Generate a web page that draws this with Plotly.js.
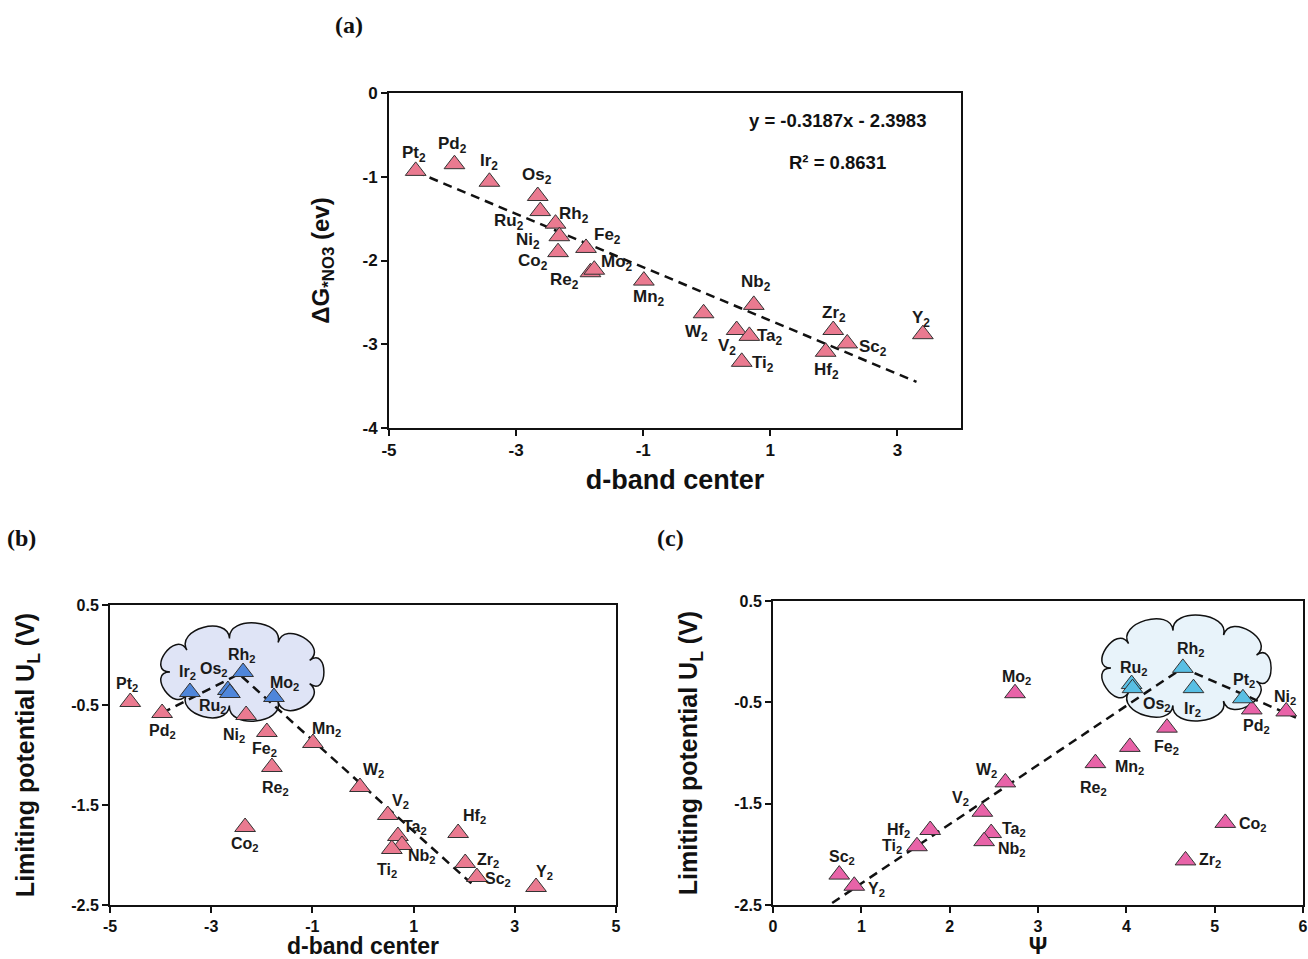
<!DOCTYPE html>
<html><head><meta charset="utf-8">
<script src="https://cdn.plot.ly/plotly-3.0.1.min.js"></script>
<style>html,body{margin:0;padding:0;background:#fff}#chart{width:1308px;height:959px}</style>
</head><body><div id="chart"></div>
<script>
// ---------------- Panel (a): ΔG*NO3 vs d-band center ----------------
const aElements = ['Pt','Pd','Ir','Os','Ru','Rh','Ni','Co','Fe','Re','Mo','Mn','W','Nb','V','Ta','Ti','Zr','Sc','Hf','Y'];
const aDband    = [-4.58,-3.97,-3.42,-2.66,-2.62,-2.38,-2.32,-2.34,-1.90,-1.83,-1.77,-0.99,-0.05,0.74,0.47,0.67,0.55,1.99,2.21,1.87,3.40];
const aDeltaG   = [-0.93,-0.85,-1.06,-1.23,-1.41,-1.56,-1.71,-1.90,-1.85,-2.14,-2.11,-2.24,-2.63,-2.53,-2.83,-2.90,-3.21,-2.83,-2.99,-3.09,-2.88];
const aFitX = [-4.58, 3.30];
const aFitY = [-0.94, -3.45];
const aEquation = 'y = -0.3187x - 2.3983';
const aRsq = 'R² = 0.8631';
const aXTicks = [-5, -3, -1, 1, 3];
const aYTicks = [0, -1, -2, -3, -4];

// ---------------- Panel (b): U_L vs d-band center ----------------
const bElements = ['Pt','Pd','Ir','Os','Ru','Rh','Mo','Ni','Fe','Re','Mn','Co','W','V','Ta','Nb','Ti','Hf','Zr','Sc','Y'];
const bDband    = [-4.60,-3.97,-3.42,-2.67,-2.63,-2.37,-1.76,-2.31,-1.90,-1.80,-0.99,-2.33,-0.06,0.49,0.69,0.77,0.57,1.88,2.02,2.25,3.42];
const bUL       = [-0.47,-0.58,-0.37,-0.35,-0.38,-0.17,-0.42,-0.60,-0.77,-1.12,-0.88,-1.72,-1.32,-1.60,-1.81,-1.90,-1.94,-1.78,-2.08,-2.22,-2.32];
const bTopGroup = ['Ir','Os','Ru','Rh','Mo'];
const bVolcanoX = [-3.97, -2.45, 2.22];
const bVolcanoY = [-0.58, -0.19, -2.32];
const bXTicks = [-5, -3, -1, 1, 3, 5];
const bYTicks = [0.5, -0.5, -1.5, -2.5];

// ---------------- Panel (c): U_L vs Ψ ----------------
const cElements = ['Mo','W','V','Ta','Nb','Hf','Ti','Sc','Y','Ru','Os','Rh','Ir','Pt','Pd','Ni','Fe','Mn','Re','Co','Zr'];
const cPsi      = [2.74,2.63,2.37,2.47,2.39,1.78,1.63,0.75,0.92,4.06,4.07,4.64,4.76,5.32,5.42,5.81,4.46,4.04,3.65,5.12,4.67];
const cUL       = [-0.41,-1.29,-1.58,-1.79,-1.87,-1.76,-1.92,-2.20,-2.31,-0.32,-0.36,-0.16,-0.36,-0.46,-0.57,-0.59,-0.75,-0.94,-1.10,-1.69,-2.06];
const cTopGroup = ['Ru','Os','Rh','Ir','Pt'];
const cVolcanoX = [0.67, 4.64, 5.92];
const cVolcanoY = [-2.48, -0.16, -0.65];
const cXTicks = [0, 1, 2, 3, 4, 5, 6];
const cYTicks = [0.5, -0.5, -1.5, -2.5];

// ---------------- layout geometry (pixels in the 1308x959 figure) ----------------
const W = 1308, H = 959;
const P = {
  a: {left:389, right:961, top:93, bottom:428, xr:[-5,4], yr:[-4,0]},
  b: {left:110, right:616, top:605, bottom:905, xr:[-5,5], yr:[-2.5,0.5]},
  c: {left:773, right:1303, top:601, bottom:905, xr:[0,6], yr:[-2.5,0.5]}
};
const dom = p => ({x:[p.left/W, p.right/W], y:[1-p.bottom/H, 1-p.top/H]});

// label offsets in pixels [dx, dy] (dy downward)
const aOff = {Pt:[-2,-17],Pd:[-2,-19],Ir:[0,-20],Os:[-1,-20],Ru:[-31,11],Rh:[18,-9],Ni:[-31,5],Co:[-25,10],
  Fe:[21,-12],Re:[-26,9],Mo:[23,-7],Mn:[5,17],W:[-7,20],Nb:[2,-22],V:[-10,17],Ta:[21,1],Ti:[21,2],Zr:[1,-16],
  Sc:[26,5],Hf:[1,19],Y:[-2,-15]};
const bOff = {Pt:[-3,-18],Pd:[0,18],Ir:[-2,-20],Os:[-14,-21],Ru:[-17,13],Rh:[-1,-17],Mo:[11,-14],Ni:[-12,20],
  Fe:[-2,17],Re:[4,21],Mn:[14,-14],Co:[0,17],W:[14,-17],V:[13,-14],Ta:[17,-9],Nb:[20,11],Ti:[-5,21],
  Hf:[16,-17],Zr:[23,-3],Sc:[21,2],Y:[8,-15]};
const cOff = {Mo:[1,-16],W:[-19,-12],V:[-22,-13],Ta:[23,-4],Nb:[28,8],Hf:[-32,0],Ti:[-25,0],Sc:[3,-17],Y:[22,4],
  Ru:[2,-16],Os:[24,16],Rh:[8,-18],Ir:[-1,21],Pt:[1,-18],Pd:[5,17],Ni:[-1,-14],Fe:[0,20],Mn:[0,21],Re:[-2,25],
  Co:[28,2],Zr:[24,0]};

const pinkA = '#ea7a90', blueB = '#4f86da', pinkC = '#e863a8', cyanC = '#58bfe4';
const edge = {color:'#333', width:1};

function pick(els, xs, ys, group, inGroup){
  const x=[],y=[],t=[];
  els.forEach((e,i)=>{ if(!group || group.includes(e)===inGroup){ x.push(xs[i]); y.push(ys[i]); t.push(e+'₂'); } });
  return {x,y,t};
}
function markerTrace(d, color, xa, ya){
  return {type:'scatter', mode:'markers', x:d.x, y:d.y, text:d.t, hoverinfo:'text', xaxis:xa, yaxis:ya,
    marker:{symbol:'triangle-up', size:18, color:color, line:edge}, showlegend:false};
}
function dashTrace(x,y,xa,ya){
  return {type:'scatter', mode:'lines', x:x, y:y, xaxis:xa, yaxis:ya, hoverinfo:'skip', showlegend:false,
    line:{color:'#111', width:2.5, dash:'9px,6px'}};
}

const traces = [
  dashTrace(aFitX, aFitY, 'x', 'y'),
  markerTrace(pick(aElements,aDband,aDeltaG), pinkA, 'x', 'y'),
  dashTrace(bVolcanoX, bVolcanoY, 'x2', 'y2'),
  markerTrace(pick(bElements,bDband,bUL,bTopGroup,false), pinkA, 'x2', 'y2'),
  markerTrace(pick(bElements,bDband,bUL,bTopGroup,true), blueB, 'x2', 'y2'),
  dashTrace(cVolcanoX, cVolcanoY, 'x3', 'y3'),
  markerTrace(pick(cElements,cPsi,cUL,cTopGroup,false), pinkC, 'x3', 'y3'),
  markerTrace(pick(cElements,cPsi,cUL,cTopGroup,true), cyanC, 'x3', 'y3')
];

const FONT = 'Liberation Sans, Arial, Helvetica, sans-serif';
const SERIF = 'Liberation Serif, Times New Roman, serif';
const annotations = [];
function addLabels(els, xs, ys, off, xa, ya, size){
  els.forEach((e,i)=>{
    const o = off[e] || [0,-16];
    annotations.push({x:xs[i], y:ys[i], xref:xa, yref:ya, text:e+'<sub>2</sub>', showarrow:false,
      xshift:o[0], yshift:-o[1], font:{family:FONT, size:size, color:'#1a1a1a', weight:'bold'}});
  });
}
addLabels(aElements, aDband, aDeltaG, aOff, 'x', 'y', 17);
addLabels(bElements, bDband, bUL, bOff, 'x2', 'y2', 16);
addLabels(cElements, cPsi, cUL, cOff, 'x3', 'y3', 16);

function paperAnn(text, px, py, size, family){
  annotations.push({text:text, x:px/W, y:1-py/H, xref:'paper', yref:'paper', showarrow:false,
    xanchor:'center', yanchor:'middle', font:{family:family, size:size, color:'#111', weight:'bold'}});
}
paperAnn(aEquation, 837, 120, 18.5, FONT);
paperAnn(aRsq, 837, 162, 18.5, FONT);
paperAnn('(a)', 349, 25, 24, SERIF);
paperAnn('(b)', 22, 538, 24, SERIF);
paperAnn('(c)', 670, 538, 24, SERIF);

// cloud outline built from scalloped bumps around an ellipse (pixel box -> data coords)
function cloudPath(p, cx, cy, rx, ry, n, h, rot){
  const toX = px => p.xr[0] + (px - p.left) * (p.xr[1]-p.xr[0])/(p.right-p.left);
  const toY = py => p.yr[1] - (py - p.top) * (p.yr[1]-p.yr[0])/(p.bottom-p.top);
  const pts = [];
  for(let i=0;i<=n;i++){
    const t = rot + 2*Math.PI*i/n, c = Math.cos(t), s = Math.sin(t);
    let nx = c/rx, ny = s/ry; const L = Math.hypot(nx,ny); nx/=L; ny/=L;
    pts.push({x:cx+rx*c, y:cy+ry*s, nx:nx, ny:ny});
  }
  let d = 'M' + toX(pts[0].x) + ',' + toY(pts[0].y);
  for(let i=0;i<n;i++){
    const a = pts[i], b = pts[i+1];
    d += ' C' + toX(a.x+a.nx*h) + ',' + toY(a.y+a.ny*h) + ' ' + toX(b.x+b.nx*h) + ',' + toY(b.y+b.ny*h) + ' ' + toX(b.x) + ',' + toY(b.y);
  }
  return d + ' Z';
}
const shapes = [
  {type:'path', xref:'x2', yref:'y2', layer:'below', path:cloudPath(P.b, 242, 672, 72, 34, 9, 24, 0.35),
   fillcolor:'#dfe4f6', line:{color:'#111', width:1.5}},
  {type:'path', xref:'x3', yref:'y3', layer:'below', path:cloudPath(P.c, 1186, 668, 75, 38, 9, 24, 0.35),
   fillcolor:'#e8f3fa', line:{color:'#111', width:1.5}}
];

const fmt = v => String(v);
function axis(p, key, vals, title, tsize, lsize, standoff){
  const isX = key === 'x';
  const d = dom(p);
  return {
    domain: isX ? d.x : d.y, range: isX ? p.xr : p.yr, tickmode:'array', tickvals: vals, ticktext: vals.map(fmt),
    showline:true, mirror:true, linecolor:'#111', linewidth:2, ticks:'outside', ticklen:6, tickwidth:2, tickcolor:'#111',
    showgrid:false, zeroline:false, automargin:false, fixedrange:true,
    tickfont:{family:FONT, size:tsize, color:'#111', weight:'bold'},
    title:{text:title, standoff:standoff, font:{family:FONT, size:lsize, color:'#111', weight:'bold'}}
  };
}

const layout = {
  width: W, height: H, margin:{l:0, r:0, t:0, b:0}, paper_bgcolor:'#fff', plot_bgcolor:'#fff', showlegend:false,
  xaxis: Object.assign(axis(P.a,'x',aXTicks,'d-band center',17,27,11), {anchor:'y'}),
  yaxis: Object.assign(axis(P.a,'y',aYTicks,'ΔG<sub>*NO3</sub> (ev)',17,24,26), {anchor:'x'}),
  xaxis2: Object.assign(axis(P.b,'x',bXTicks,'d-band center',16,23,6), {anchor:'y2'}),
  yaxis2: Object.assign(axis(P.b,'y',bYTicks,'Limiting potential U<sub>L</sub> (V)',16,25,29), {anchor:'x2'}),
  xaxis3: Object.assign(axis(P.c,'x',cXTicks,'Ψ',16,23,14), {anchor:'y3'}),
  yaxis3: Object.assign(axis(P.c,'y',cYTicks,'Limiting potential U<sub>L</sub> (V)',16,25,29), {anchor:'x3'}),
  annotations: annotations, shapes: shapes
};

Plotly.newPlot('chart', traces, layout, {displayModeBar:false, staticPlot:true});
</script>
</body></html>
